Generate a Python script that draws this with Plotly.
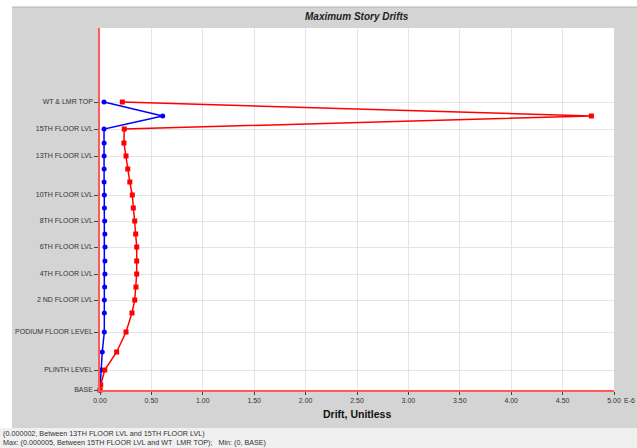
import plotly.graph_objects as go

# Story levels (elevation units) and labels
elevations = [0, 5, 20, 38, 58, 77, 90, 103, 116, 129, 143, 156, 169, 182,
              195, 208, 221, 234, 247, 261, 274, 288]

label_elevations = [0, 20, 58, 90, 116, 143, 169, 195, 234, 261, 288]
label_texts = ["BASE", "PLINTH LEVEL", "PODIUM FLOOR LEVEL", "2 ND FLOOR LVL",
               "4TH FLOOR LVL", "6TH FLOOR LVL", "8TH FLOOR LVL",
               "10TH FLOOR LVL", "13TH FLOOR LVL", "15TH FLOOR LVL",
               "WT & LMR TOP"]

# Drift values (x 1E-6)
red_drift = [0, 0.007, 0.046, 0.162, 0.253, 0.311, 0.338, 0.350, 0.357, 0.357,
             0.357, 0.347, 0.338, 0.324, 0.314, 0.29, 0.27, 0.253, 0.233, 0.236,
             4.78, 0.217]
blue_drift = [0, 0.003, 0.01, 0.022, 0.042, 0.042, 0.042, 0.045, 0.048, 0.048,
              0.049, 0.047, 0.045, 0.043, 0.042, 0.040, 0.040, 0.040, 0.040,
              0.039, 0.61, 0.039]

x_tickvals = [0, 0.5, 1.0, 1.5, 2.0, 2.5, 3.0, 3.5, 4.0, 4.5, 5.0]
x_ticktext = ["0.00", "0.50", "1.00", "1.50", "2.00", "2.50", "3.00", "3.50",
              "4.00", "4.50", "5.00"]
x_unit_suffix = "E-6"

W, H = 637, 448
L, R, T, B = 100, 614, 28, 390


def px(xp):
    return (xp - L) / (R - L)


def py(yp):
    return (B - yp) / (B - T)


fig = go.Figure()
fig.add_trace(go.Scatter(x=blue_drift, y=elevations, mode="lines+markers",
                         line=dict(color="#0000ff", width=1.5),
                         marker=dict(color="#0000ff", size=5, symbol="circle"),
                         showlegend=False, cliponaxis=False))
fig.add_trace(go.Scatter(x=red_drift, y=elevations, mode="lines+markers",
                         line=dict(color="#ff0000", width=1.5),
                         marker=dict(color="#ff0000", size=5, symbol="square"),
                         showlegend=False, cliponaxis=False))

shapes = [
    # white strip on top and left
    dict(type="rect", xref="paper", yref="paper", x0=px(-2), x1=px(640),
         y0=py(7), y1=py(-2), fillcolor="#ffffff", line=dict(width=0),
         layer="below"),
    dict(type="rect", xref="paper", yref="paper", x0=px(-2), x1=px(12),
         y0=py(450), y1=py(-2), fillcolor="#ffffff", line=dict(width=0),
         layer="below"),
    # light band at bottom
    dict(type="rect", xref="paper", yref="paper", x0=px(-2), x1=px(640),
         y0=py(450), y1=py(428), fillcolor="#f0f0f0", line=dict(width=0),
         layer="below"),
    dict(type="line", xref="paper", yref="paper", x0=px(12), x1=px(640),
         y0=py(7), y1=py(7), line=dict(color="#b4b4b4", width=1),
         layer="below"),
]

annotations = [
    dict(text="<b><i>Maximum Story Drifts</i></b>", xref="paper", yref="paper",
         x=0.5, y=py(16), xanchor="center", yanchor="middle", showarrow=False,
         font=dict(family="Liberation Sans, Arial", size=10, color="#222222")),
    dict(text="(0.000002, Between 13TH FLOOR LVL and 15TH FLOOR LVL)",
         xref="paper", yref="paper", x=px(1), y=py(433), xanchor="left",
         yanchor="middle", showarrow=False,
         font=dict(family="Liberation Sans, Arial", size=7.2, color="#333333")),
    dict(text="Max: (0.000005, Between 15TH FLOOR LVL and WT&nbsp; LMR TOP);&nbsp;&nbsp; Min: (0, BASE)",
         xref="paper", yref="paper", x=px(1), y=py(442), xanchor="left",
         yanchor="middle", showarrow=False,
         font=dict(family="Liberation Sans, Arial", size=7.2, color="#333333")),
    dict(text="<b>Drift, Unitless</b>", xref="paper", yref="paper",
         x=0.5, y=py(414), xanchor="center", yanchor="middle", showarrow=False,
         font=dict(family="Liberation Sans, Arial", size=10.5, color="#111111")),
    dict(text=x_unit_suffix, xref="paper", yref="paper",
         x=px(622), y=py(400.5), xanchor="left", yanchor="middle",
         showarrow=False,
         font=dict(family="Liberation Sans, Arial", size=7, color="#333333")),
]

fig.update_layout(
    width=W, height=H,
    margin=dict(l=L, r=W - R, t=T, b=H - B, pad=0),
    paper_bgcolor="#d4d4d4", plot_bgcolor="#ffffff",
    shapes=shapes, annotations=annotations,
    font=dict(family="Liberation Sans, Arial", size=7, color="#333333"),
    xaxis=dict(range=[0, 5], tickvals=x_tickvals, ticktext=x_ticktext,
               showgrid=True, gridcolor="#e4e4e4", gridwidth=1,
               zeroline=False, showline=True, linecolor="#ff5a5a", linewidth=2,
               ticks="outside", ticklen=3, tickcolor="#444444", tickwidth=1,
               tickfont=dict(size=7, color="#333333"), fixedrange=True),
    yaxis=dict(range=[0, 362], tickvals=label_elevations, ticktext=label_texts,
               showgrid=True, gridcolor="#e4e4e4", gridwidth=1,
               zeroline=False, showline=True, linecolor="#ff5a5a", linewidth=1.5,
               ticks="outside", ticklen=4, tickcolor="#444444", tickwidth=1,
               tickfont=dict(size=7, color="#333333"), fixedrange=True),
)

fig.write_html(
    "out.html",
    config={"displayModeBar": False},
    post_script="document.body.style.margin='0';document.body.style.overflow='hidden';",
)
